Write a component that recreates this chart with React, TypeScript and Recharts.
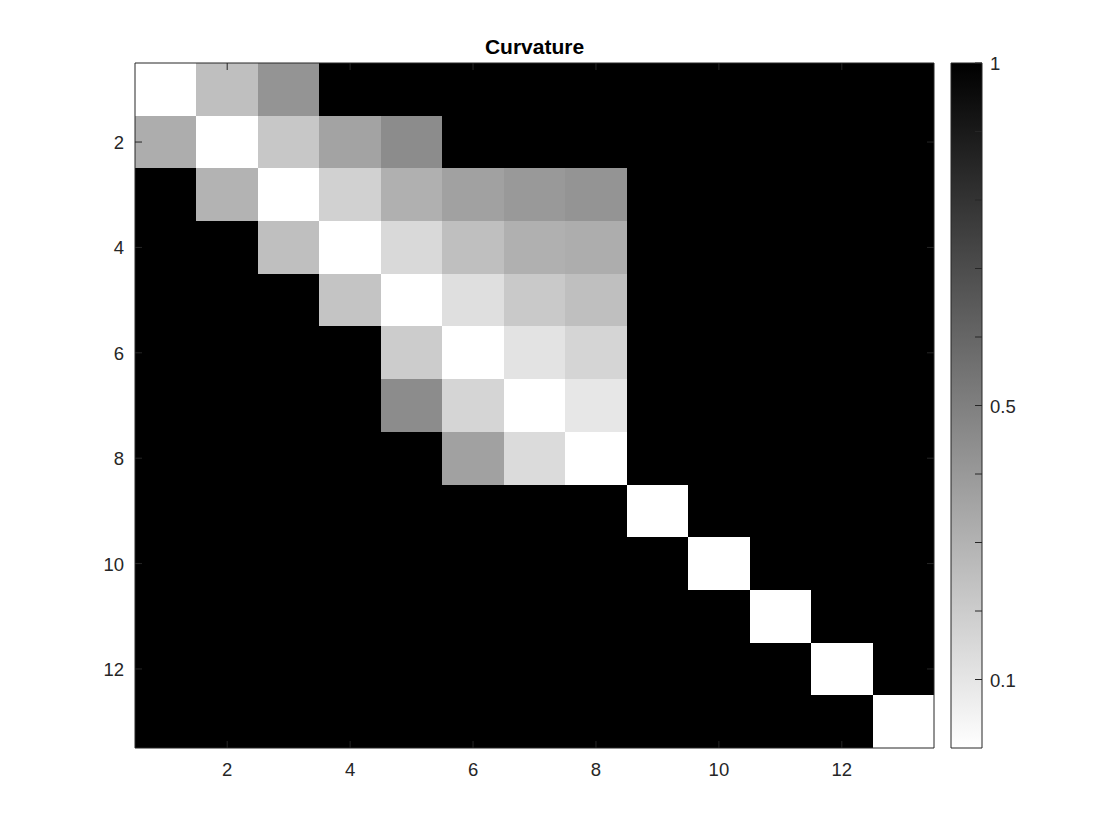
import React from 'react'
import { ReferenceArea, ScatterChart, XAxis, YAxis } from 'recharts'

// 13x13 curvature matrix, rows top to bottom (0 = white, 1 = black)
const curvature = [
  [0, 0.25, 0.42, 1, 1, 1, 1, 1, 1, 1, 1, 1, 1],
  [0.32, 0, 0.22, 0.36, 0.45, 1, 1, 1, 1, 1, 1, 1, 1],
  [1, 0.3, 0, 0.18, 0.31, 0.37, 0.4, 0.42, 1, 1, 1, 1, 1],
  [1, 1, 0.25, 0, 0.15, 0.25, 0.31, 0.32, 1, 1, 1, 1, 1],
  [1, 1, 1, 0.23, 0, 0.125, 0.21, 0.25, 1, 1, 1, 1, 1],
  [1, 1, 1, 1, 0.2, 0, 0.11, 0.165, 1, 1, 1, 1, 1],
  [1, 1, 1, 1, 0.45, 0.165, 0, 0.094, 1, 1, 1, 1, 1],
  [1, 1, 1, 1, 1, 0.37, 0.14, 0, 1, 1, 1, 1, 1],
  [1, 1, 1, 1, 1, 1, 1, 1, 0, 1, 1, 1, 1],
  [1, 1, 1, 1, 1, 1, 1, 1, 1, 0, 1, 1, 1],
  [1, 1, 1, 1, 1, 1, 1, 1, 1, 1, 0, 1, 1],
  [1, 1, 1, 1, 1, 1, 1, 1, 1, 1, 1, 0, 1],
  [1, 1, 1, 1, 1, 1, 1, 1, 1, 1, 1, 1, 0],
]

const axisTicks = [2, 4, 6, 8, 10, 12]
const colorbarTicks = [0.1, 0.2, 0.3, 0.4, 0.5, 0.6, 0.7, 0.8, 0.9, 1]
const colorbarLabels = [0.1, 0.5, 1]

const AXIS = '#262626'
const FONT = '"Liberation Sans", Arial, Helvetica, sans-serif'
const FS = 18.5

const cells = curvature.flatMap((row, i) =>
  row.map((value, j) => ({ row: i + 1, col: j + 1, value }))
)

const gray = (v: number) => {
  const g = Math.round(255 * (1 - v))
  return `rgb(${g},${g},${g})`
}

const CellRect = (p: any) => (
  <rect
    x={p.x}
    y={p.y}
    width={p.width}
    height={p.height}
    fill={p.fill}
    shapeRendering="crispEdges"
  />
)

const BottomTick = (p: any) => (
  <g>
    <line x1={p.x} y1={p.y} x2={p.x} y2={p.y - 7} stroke={AXIS} />
    <text x={p.x} y={p.y + 28} textAnchor="middle" fill={AXIS} fontSize={FS} fontFamily={FONT}>
      {p.payload.value}
    </text>
  </g>
)

const TopTick = (p: any) => (
  <line x1={p.x} y1={p.y} x2={p.x} y2={p.y + 7} stroke={AXIS} />
)

const LeftTick = (p: any) => (
  <g>
    <line x1={p.x} y1={p.y} x2={p.x + 7} y2={p.y} stroke={AXIS} />
    <text x={p.x - 11} y={p.y + 7} textAnchor="end" fill={AXIS} fontSize={FS} fontFamily={FONT}>
      {p.payload.value}
    </text>
  </g>
)

const RightTick = (p: any) => (
  <line x1={p.x} y1={p.y} x2={p.x - 7} y2={p.y} stroke={AXIS} />
)

const ColorbarTick = (p: any) => {
  const v = p.payload.value
  const show = colorbarLabels.some((l) => Math.abs(l - v) < 1e-6)
  return (
    <g>
      <line x1={p.x} y1={p.y} x2={p.x - 7} y2={p.y} stroke={AXIS} />
      {show && (
        <text x={p.x + 8} y={p.y + 7} textAnchor="start" fill={AXIS} fontSize={FS} fontFamily={FONT}>
          {v}
        </text>
      )}
    </g>
  )
}

export default function App() {
  return (
    <div style={{ position: 'absolute', left: 0, top: 0, width: 1120, height: 840, background: '#fff' }}>
      <div style={{ position: 'absolute', left: 0, top: 0 }}>
        <ScatterChart width={1120} height={840} margin={{ top: 62, right: 185, bottom: 52, left: 85 }}>
          <XAxis
            xAxisId="b"
            type="number"
            dataKey="col"
            domain={[0.5, 13.5]}
            ticks={axisTicks}
            allowDataOverflow
            orientation="bottom"
            height={40}
            tickSize={0}
            tickMargin={0}
            tickLine={false}
            tick={(p: any) => <BottomTick {...p} />}
            axisLine={{ stroke: AXIS }}
          />
          <XAxis
            xAxisId="t"
            type="number"
            dataKey="col"
            domain={[0.5, 13.5]}
            ticks={axisTicks}
            allowDataOverflow
            orientation="top"
            height={1}
            tickSize={0}
            tickMargin={0}
            tickLine={false}
            tick={(p: any) => <TopTick {...p} />}
            axisLine={{ stroke: AXIS }}
          />
          <YAxis
            yAxisId="l"
            type="number"
            dataKey="row"
            domain={[0.5, 13.5]}
            ticks={axisTicks}
            reversed
            allowDataOverflow
            width={50}
            tickSize={0}
            tickMargin={0}
            tickLine={false}
            tick={(p: any) => <LeftTick {...p} />}
            axisLine={{ stroke: AXIS }}
          />
          <YAxis
            yAxisId="r"
            orientation="right"
            type="number"
            dataKey="row"
            domain={[0.5, 13.5]}
            ticks={axisTicks}
            reversed
            allowDataOverflow
            width={1}
            tickSize={0}
            tickMargin={0}
            tickLine={false}
            tick={(p: any) => <RightTick {...p} />}
            axisLine={{ stroke: AXIS }}
          />
          {cells.map((c) => (
            <ReferenceArea
              key={`${c.row}-${c.col}`}
              xAxisId="b"
              yAxisId="l"
              x1={c.col - 0.5}
              x2={c.col + 0.5}
              y1={c.row - 0.5}
              y2={c.row + 0.5}
              fill={gray(c.value)}
              fillOpacity={1}
              stroke="none"
              ifOverflow="visible"
              shape={CellRect}
            />
          ))}
        </ScatterChart>
      </div>

      <div style={{ position: 'absolute', left: 0, top: 0 }}>
        <ScatterChart width={1120} height={840} margin={{ top: 62, right: 78, bottom: 92, left: 951 }}>
          <defs>
            <linearGradient id="cbGrad" x1="0" y1="0" x2="0" y2="1">
              <stop offset="0" stopColor="#000" />
              <stop offset="1" stopColor="#fff" />
            </linearGradient>
          </defs>
          <XAxis
            xAxisId="cb"
            type="number"
            dataKey="x"
            domain={[0, 1]}
            allowDataOverflow
            orientation="top"
            height={1}
            tick={false}
            tickLine={false}
            axisLine={false}
          />
          <YAxis
            yAxisId="cb"
            orientation="right"
            type="number"
            dataKey="y"
            domain={[0, 1]}
            allowDataOverflow
            ticks={colorbarTicks}
            width={60}
            tickSize={0}
            tickMargin={0}
            tickLine={false}
            tick={(p: any) => <ColorbarTick {...p} />}
            axisLine={false}
          />
          <ReferenceArea
            xAxisId="cb"
            yAxisId="cb"
            x1={0}
            x2={1}
            y1={0}
            y2={1}
            fill="url(#cbGrad)"
            fillOpacity={1}
            stroke={AXIS}
            strokeWidth={1}
            ifOverflow="visible"
          />
        </ScatterChart>
      </div>

      <div
        style={{
          position: 'absolute',
          left: 135,
          top: 35,
          width: 799,
          textAlign: 'center',
          fontFamily: FONT,
          fontWeight: 'bold',
          fontSize: 21,
          lineHeight: '24px',
          color: '#000',
        }}
      >
        Curvature
      </div>
    </div>
  )
}
